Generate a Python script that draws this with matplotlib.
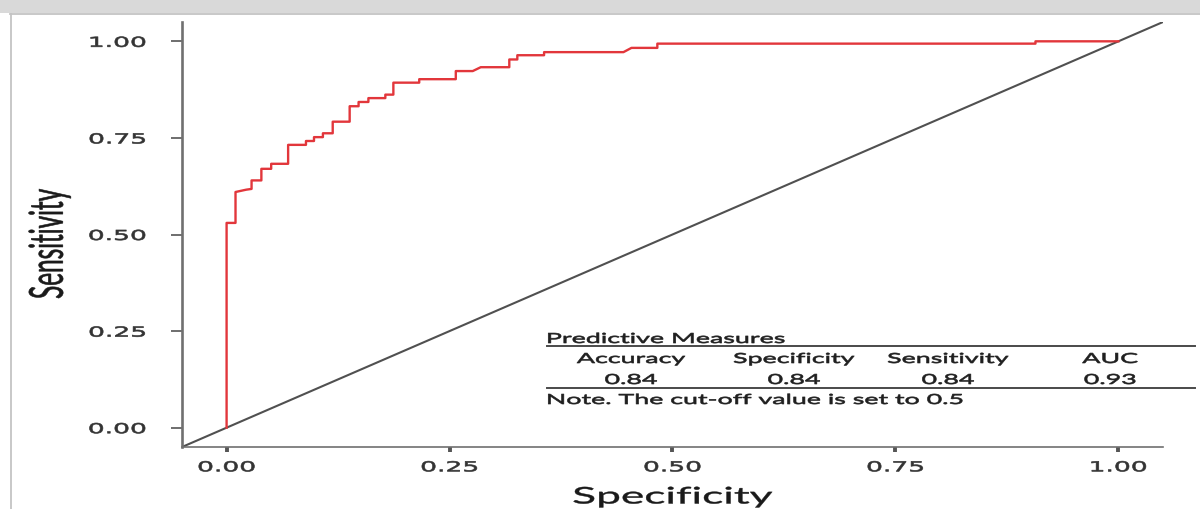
import matplotlib
matplotlib.use("Agg")
import matplotlib.pyplot as plt
from matplotlib.patheffects import AbstractPathEffect
from matplotlib.transforms import Affine2D
from matplotlib.lines import Line2D
from matplotlib.patches import Rectangle

# ROC curve (x axis runs 0..1 as drawn, y is sensitivity)
fpr = [0.000, 0.000, 0.010, 0.010, 0.022, 0.028, 0.028, 0.039, 0.039, 0.050,
       0.050, 0.069, 0.069, 0.089, 0.089, 0.098, 0.098, 0.108, 0.108, 0.119,
       0.119, 0.138, 0.138, 0.148, 0.148, 0.159, 0.159, 0.178, 0.178, 0.187,
       0.187, 0.216, 0.216, 0.257, 0.257, 0.276, 0.285, 0.317, 0.317, 0.326,
       0.326, 0.356, 0.356, 0.445, 0.454, 0.483, 0.483, 0.907, 0.907, 1.000]
tpr = [0.000, 0.530, 0.530, 0.610, 0.616, 0.618, 0.640, 0.640, 0.670, 0.670,
       0.683, 0.683, 0.732, 0.732, 0.742, 0.742, 0.752, 0.752, 0.762, 0.762,
       0.792, 0.792, 0.832, 0.832, 0.843, 0.843, 0.853, 0.853, 0.862, 0.862,
       0.893, 0.893, 0.902, 0.902, 0.923, 0.923, 0.933, 0.933, 0.953, 0.953,
       0.964, 0.964, 0.972, 0.972, 0.983, 0.983, 0.994, 0.994, 1.000, 1.000]
ref_line = [0, 1]  # chance diagonal y = x

x_ticks = [0, 0.25, 0.5, 0.75, 1.0]
y_ticks = [0, 0.25, 0.5, 0.75, 1.0]

table_title = "Predictive Measures"
table_headers = ["Accuracy", "Specificity", "Sensitivity", "AUC"]
table_values = [0.84, 0.84, 0.84, 0.93]
table_note = "Note. The cut-off value is set to 0.5"

W, H = 1200, 509
SX = 1.93  # the source image is stretched sideways, text included


class Stretch(AbstractPathEffect):
    # widen glyphs horizontally around an anchor, text stays a normal Text
    def __init__(self, sx=SX, anchor="center", stroke=0.45):
        super().__init__()
        self.sx = sx
        self.anchor = anchor
        self.stroke = stroke

    def draw_path(self, renderer, gc, tpath, affine, rgbFace=None):
        ext = tpath.get_extents(affine)
        if self.anchor == "left":
            x0 = ext.x0
        elif self.anchor == "right":
            x0 = ext.x1
        else:
            x0 = (ext.x0 + ext.x1) / 2
        affine = affine + Affine2D().translate(-x0, 0).scale(self.sx, 1).translate(x0, 0)
        gc0 = renderer.new_gc()
        gc0.copy_properties(gc)
        if self.stroke and rgbFace is not None:
            gc0.set_linewidth(self.stroke)
            gc0.set_foreground(rgbFace)
        renderer.draw_path(gc0, tpath, affine, rgbFace)
        gc0.restore()


def fx(px):
    return px / W


def fy(py):
    return 1 - py / H


fig = plt.figure(figsize=(W / 100, H / 100), dpi=100)
fig.patch.set_facecolor("white")

# grey page band + frame from the screenshot
fig.patches.append(Rectangle((0, fy(13)), 1, 1 - fy(13), transform=fig.transFigure,
                             facecolor="#d9d9d9", edgecolor="none", zorder=0))
fig.add_artist(Line2D([fx(10), 1], [fy(14), fy(14)], color="#c4c4c4", lw=1.3))
fig.add_artist(Line2D([fx(10.5), fx(10.5)], [fy(14), 0], color="#c4c4c4", lw=1.3))

ax = fig.add_axes([fx(182), fy(447), fx(1163) - fx(182), fy(22) - fy(447)])
ax.set_xlim(-0.05, 1.05)
ax.set_ylim(-0.05, 1.05)

ax.axline((ref_line[0], ref_line[0]), (ref_line[1], ref_line[1]), color="#505050", lw=1.5)
ax.plot(fpr, tpr, color="#e2363b", lw=1.7)

for s in ["top", "right"]:
    ax.spines[s].set_visible(False)
ax.spines["left"].set_color("#707070")
ax.spines["left"].set_linewidth(1.9)
ax.spines["bottom"].set_color("#707070")
ax.spines["bottom"].set_linewidth(1.2)

ax.set_xticks(x_ticks)
ax.set_xticklabels([f"{v:.2f}" for v in x_ticks])
ax.set_yticks(y_ticks)
ax.set_yticklabels([f"{v:.2f}" for v in y_ticks])
ax.tick_params(axis="x", length=3.6, width=2.8, color="#555555", pad=6,
               labelsize=9.9, labelcolor="#333333")
ax.tick_params(axis="y", length=7.9, width=1.2, color="#555555", pad=18,
               labelsize=9.9, labelcolor="#333333")
for t in ax.get_xticklabels():
    t.set_path_effects([Stretch(anchor="center")])
for t in ax.get_yticklabels():
    t.set_path_effects([Stretch(anchor="right")])

ax.set_xlabel("Specificity", fontsize=16.5, family="Lato", color="#1a1a1a", va="center")
ax.xaxis.set_label_coords(0.5, (447 - 497) / 425)
ax.set_ylabel("Sensitivity", fontsize=17.5, family="Lato", color="#1a1a1a", va="center")
ax.yaxis.set_label_coords((50 - 182) / 981, (447 - 244) / 425)
ax.xaxis.label.set_path_effects([Stretch(stroke=0.3)])
ax.yaxis.label.set_path_effects([Stretch(stroke=0.4)])

# predictive measures table
tkw = dict(fontsize=10, family="Lato", color="#1f1f1f", va="baseline")
fig.text(fx(547), fy(343), table_title, ha="left",
         path_effects=[Stretch(anchor="left")], **tkw)
fig.add_artist(Line2D([fx(547), fx(1195)], [fy(346), fy(346)], color="#4a4a4a", lw=1.4))
col_x = [631, 794, 948, 1110]
for cx, head, val in zip(col_x, table_headers, table_values):
    fig.text(fx(cx), fy(363), head, ha="center", path_effects=[Stretch()], **tkw)
    fig.text(fx(cx), fy(384), f"{val:.2f}", ha="center", path_effects=[Stretch()], **tkw)
fig.add_artist(Line2D([fx(547), fx(1195)], [fy(388), fy(388)], color="#4a4a4a", lw=1.4))
fig.text(fx(547), fy(404), table_note, ha="left",
         path_effects=[Stretch(anchor="left")], **tkw)

fig.savefig("out.png", dpi=100)
